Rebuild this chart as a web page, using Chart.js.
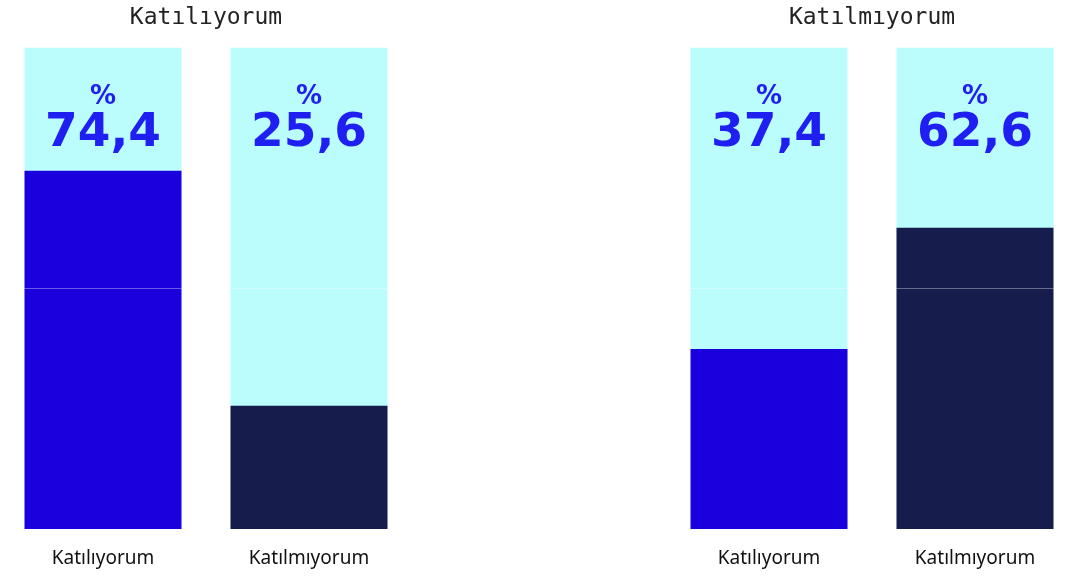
<!DOCTYPE html>
<html>
<head>
<meta charset="utf-8">
<script src="https://cdn.jsdelivr.net/npm/chart.js@4.4.1/dist/chart.umd.min.js"></script>
<style>
    body{ margin:0; background:#fff; }
    .wrap{ position:absolute; top:0; width:412px; height:576px; }
    #leftWrap{ left:0; }
    #rightWrap{ left:666px; }
</style>
</head>
<body>
<div class="wrap" id="leftWrap"><canvas id="leftChart"></canvas></div>
<div class="wrap" id="rightWrap"><canvas id="rightChart"></canvas></div>
<script>
// ---------------- DATA ----------------
const categories = ['Katılıyorum', 'Katılmıyorum'];
const groupTitles = ['Katılıyorum', 'Katılmıyorum'];
const leftValues = [74.4, 25.6];
const rightValues = [37.4, 62.6];
const fullBar = [100, 100];

const barColors = ['#1a00dc', '#161c4b'];
const backColor = '#bbfcfd';
const labelColor = '#1f1ff2';

// yazi + orta cizgi
const valueLabels = {
    id: 'valueLabels',
    afterDatasetsDraw(chart){
        const ctx = chart.ctx;
        const yScale = chart.scales.y;
        const meta = chart.getDatasetMeta(1);
        const vals = chart.data.datasets[0].data;
        ctx.save();
        meta.data.forEach((bar, i) => {
            // faint 50% line
            const midY = Math.round(yScale.getPixelForValue(50)) + 0.5;
            ctx.strokeStyle = 'rgba(255,255,255,0.35)';
            ctx.lineWidth = 1;
            ctx.beginPath();
            ctx.moveTo(bar.x - bar.width/2, midY);
            ctx.lineTo(bar.x + bar.width/2, midY);
            ctx.stroke();

            const top = yScale.getPixelForValue(100);
            ctx.fillStyle = labelColor;
            ctx.textAlign = 'center';
            ctx.textBaseline = 'middle';
            ctx.font = 'bold 26px "DejaVu Sans"';
            ctx.fillText('%', bar.x, top + 50);
            ctx.font = 'bold 47px "DejaVu Sans"';
            ctx.fillText(vals[i].toFixed(1).replace('.', ','), bar.x, top + 86);
        });
        ctx.restore();
    }
};

function makeChart(id, title, values){
    new Chart(document.getElementById(id).getContext('2d'), {
        type: 'bar',
        data: {
            labels: categories,
            datasets: [
                { data: values, backgroundColor: barColors, order: 0 },
                { data: fullBar, backgroundColor: backColor, order: 1 }
            ]
        },
        options: {
            responsive: true,
            maintainAspectRatio: false,
            animation: false,
            layout: { padding: 0 },
            datasets: { bar: { grouped: false, barPercentage: 0.762, categoryPercentage: 1 } },
            plugins: {
                legend: { display: false },
                tooltip: { enabled: false },
                title: {
                    display: true,
                    text: title,
                    color: '#222',
                    font: { family: '"DejaVu Sans Mono"', size: 23, weight: 'normal' },
                    padding: { top: 4, bottom: 16 }
                }
            },
            scales: {
                y: { display: false, min: 0, max: 100 },
                x: {
                    grid: { display: false, drawTicks: false },
                    border: { display: false },
                    ticks: { color: '#111', padding: 18, font: { family: '"Noto Sans"', size: 19 } },
                    afterFit(scale){ scale.height = 47; }
                }
            }
        },
        plugins: [valueLabels]
    });
}

makeChart('leftChart', groupTitles[0], leftValues);
makeChart('rightChart', groupTitles[1], rightValues);
</script>
</body>
</html>
